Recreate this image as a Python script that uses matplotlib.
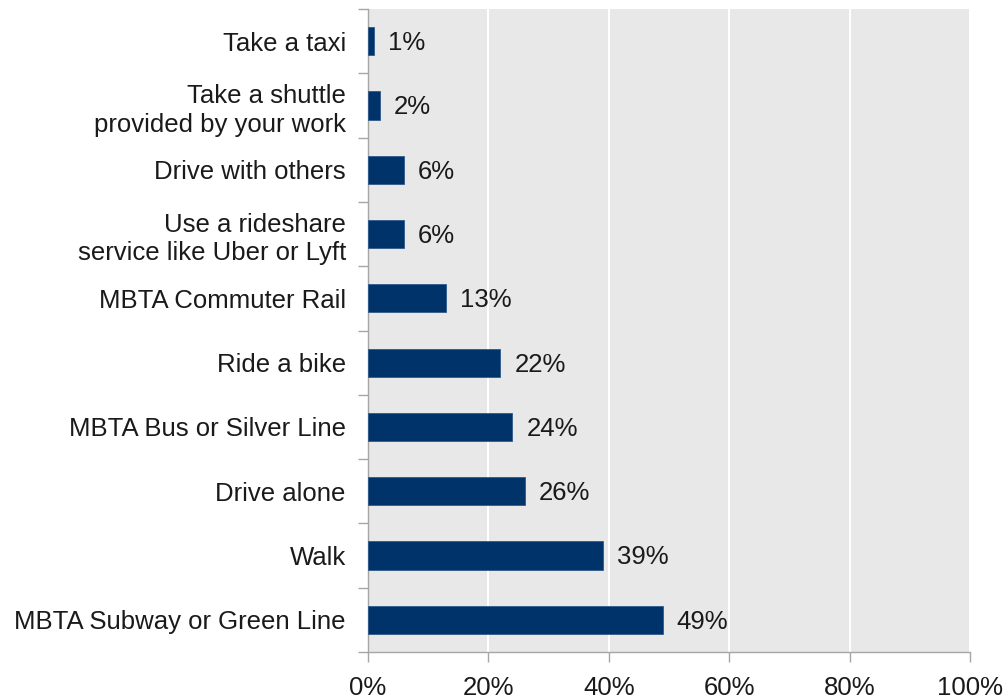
import matplotlib
matplotlib.use("Agg")
from matplotlib import pyplot as plt
from matplotlib.ticker import FixedLocator
import numpy as np

plt.rcParams['font.family'] = ['Liberation Sans', 'DejaVu Sans']

# data (top to bottom in the chart)
categories = ["Take a taxi",
              "Take a shuttle\nprovided by your work",
              "Drive with others",
              "Use a rideshare\nservice like Uber or Lyft",
              "MBTA Commuter Rail",
              "Ride a bike",
              "MBTA Bus or Silver Line",
              "Drive alone",
              "Walk",
              "MBTA Subway or Green Line"]
values = [1, 2, 6, 6, 13, 22, 24, 26, 39, 49]
x_ticks = [0, 20, 40, 60, 80, 100]
x_labels = ["0%", "20%", "40%", "60%", "80%", "100%"]

bar_color = '#00336A'
axis_color = '#A6A6A6'
fs = 18.5

fig = plt.figure(figsize=(10.08, 6.98), dpi=100)
ax = fig.add_axes([368/1008, 1 - 652/698, (970-368)/1008, (652-9)/698])

n = len(categories)
y = np.arange(n)[::-1]
ax.barh(y, values, height=0.44, color=bar_color, edgecolor='#2E5A8C', linewidth=0.6, zorder=3)

for yi, v in zip(y, values):
    ax.text(v + 2.3, yi - 0.03, f"{v}%", va='center', ha='left', fontsize=fs, color='#1a1a1a')

ax.set_facecolor('#E8E8E8')
ax.set_xlim(0, 100)
ax.set_ylim(-0.5, n - 0.5)

ax.set_xticks(x_ticks)
ax.set_xticklabels(x_labels, fontsize=fs, color='#1a1a1a')
ax.xaxis.grid(True, color='white', linewidth=1.5, zorder=1)
ax.set_axisbelow(True)

ax.set_yticks(y)
ax.set_yticklabels(categories, fontsize=fs, color='#1a1a1a', linespacing=1.25)
ax.yaxis.set_minor_locator(FixedLocator(np.arange(-0.5, n, 1)))
ax.tick_params(axis='y', which='major', length=0, pad=16)
ax.tick_params(axis='y', which='minor', length=7, color=axis_color, width=1)
ax.tick_params(axis='x', length=7, color=axis_color, width=1, pad=10)
for lab in ax.get_yticklabels():
    lab.set_horizontalalignment('right')

for side in ['top', 'right']:
    ax.spines[side].set_visible(False)
for side in ['left', 'bottom']:
    ax.spines[side].set_color(axis_color)
    ax.spines[side].set_linewidth(1)

plt.savefig('out.png', dpi=100)
